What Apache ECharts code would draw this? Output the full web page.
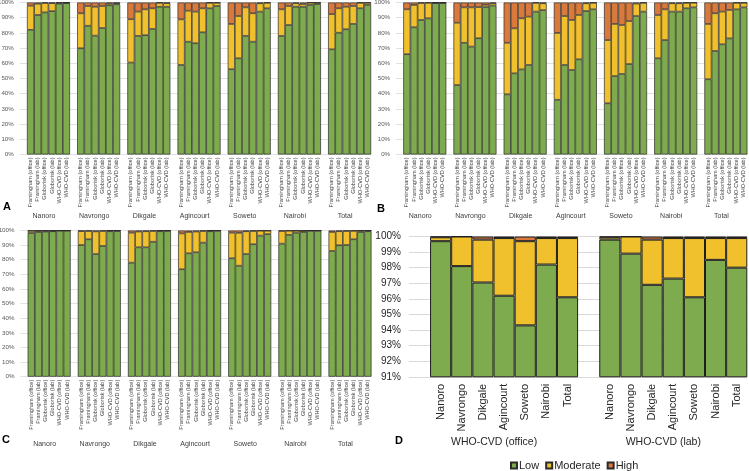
<!DOCTYPE html>
<html><head><meta charset="utf-8">
<script src="https://cdn.jsdelivr.net/npm/echarts@6/dist/echarts.min.js"></script>
<style>html,body{margin:0;padding:0;background:#fff}#c{width:749px;height:471px}</style>
</head><body><div id="c"></div>
<script>
// ---------- DATA ----------
const sites = ['Nanoro','Navrongo','Dikgale','Agincourt','Soweto','Nairobi','Total'];
const scores = ['Framingham (office)','Framingham (lab)','Globorisk (office)','Globorisk (lab)','WHO-CVD (office)','WHO-CVD (lab)'];
const riskLevels = ['Low','Moderate','High'];
const whoGroups = ['WHO-CVD (office)','WHO-CVD (lab)'];

// Panel A (% per site, 6 scores each)
const lowA = [[82,91.8,93.5,94.3,99.3,99.6],[69.9,84.7,78.2,83.2,98.2,98.8],[60.5,78,78.5,82.6,97.2,97.2],[58.9,74.2,73.2,80.4,96.2,97.7],[56.1,63.3,78,74.2,94,96.2],[78,85.2,97.2,97.2,98.4,99],[69.2,80.1,82.4,85.9,96.2,98.4]];
const modA = [[15.9,7.4,6.2,5.3,0.5,0.3],[23,13,19,14.5,1.2,0.8],[28.5,16,17,13.6,2.6,2.4],[30,20.4,20.8,15.8,3.6,2.1],[29.8,27.8,18.8,18.7,5.5,3.6],[17.5,12.5,2.3,1.8,1.5,0.9],[23.2,16.1,14.8,11.8,3.6,1.4]];
const highA = [[2.1,0.8,0.3,0.4,0.2,0.1],[7.1,2.3,2.8,2.3,0.6,0.4],[11,6,4.5,3.8,0.2,0.4],[11.1,5.4,6,3.8,0.2,0.2],[14.1,8.9,3.2,7.1,0.5,0.2],[4.5,2.3,0.5,1,0.1,0.1],[7.6,3.8,2.8,2.3,0.2,0.2]];

// Panel B
const lowB = [[66,83.7,88.5,89.6,99.6,99.7],[45.7,73.5,71,76.5,97,98],[39.6,53.4,56,58.9,94,95],[36,58.9,55.6,62.6,94.4,95.5],[33.7,51.6,53,59.5,91.1,94],[63.3,75.3,94,94,96.2,96.8],[49.5,68.1,72.5,76.4,95.5,96.8]];
const modB = [[29.5,14.7,11.2,10.2,0.3,0.2],[41,23.3,25.8,20.5,1.5,1.5],[33.9,29.6,33.6,31.8,5.8,4.5],[44,32.2,32.9,29.2,5.1,4.3],[41.6,34.3,32.2,28.3,8.2,5.8],[28.5,20.2,5.5,5.5,3.6,3.1],[36.4,24.8,21.5,18.7,4.3,3]];
const highB = [[4.5,1.6,0.3,0.2,0.1,0.1],[13.3,3.2,3.2,3,1.5,0.5],[26.5,17,10.4,9.3,0.2,0.5],[20,8.9,11.5,8.2,0.5,0.2],[24.7,14.1,14.8,12.2,0.7,0.2],[8.2,4.5,0.5,0.5,0.2,0.1],[14.1,7.1,6,4.9,0.2,0.2]];

// Panel C
const lowC = [[98.3,99,99.3,99.5,99.9,99.9],[90.1,94,83.9,89.4,99.5,99.6],[78,88.5,88.5,92.3,99.5,99.7],[73.5,84.4,85.1,91.7,99.5,99.8],[81,75.9,83.9,90.6,96.5,97.5],[91,97,98.5,99,99.8,99.8],[86,89.9,90.1,94,99,99.5]];
const modC = [[1.5,0.9,0.6,0.4,0.1,0.1],[9.5,5.7,15.5,10.3,0.5,0.4],[20.5,10.8,11,7.4,0.5,0.3],[24.5,14.6,14.2,8,0.5,0.2],[17.5,22.5,15.6,9.1,3.4,2.4],[8.7,2.9,1.4,0.9,0.2,0.2],[13,9.6,9.6,5.8,1,0.5]];
const highC = [[0.2,0.1,0.1,0.1,0,0],[0.4,0.3,0.6,0.3,0,0],[1.5,0.7,0.5,0.3,0,0],[2,1,0.7,0.3,0,0],[1.5,1.6,0.5,0.3,0.1,0.1],[0.3,0.1,0.1,0.1,0,0],[1,0.5,0.3,0.2,0,0]];

// Panel D (WHO-CVD office / lab, per site)
const lowDoffice = [99.7,98.1,97.05,96.2,94.3,98.2,96.1];
const modDoffice = [0.25,1.9,2.75,3.7,5.4,1.7,3.8];
const highDoffice = [0.05,0,0.2,0.1,0.3,0.1,0.1];
const lowDlab = [99.8,98.9,96.9,97.3,96.1,98.5,98.0];
const modDlab = [0.15,1.1,2.9,2.6,3.8,1.4,1.9];
const highDlab = [0.05,0,0.2,0.1,0.1,0.1,0.1];

// ---------- BUILD ----------
const FN = "'Liberation Sans Narrow','Liberation Sans',Arial,sans-serif";
const FR = "'Liberation Sans',Arial,sans-serif";
const COLORS = {Low:'#7eab4e', Moderate:'#f1c12d', High:'#d9793b'};

function abcSlots(rows){ const out=[]; rows.forEach(r=>{ out.push('-'); r.forEach(v=>out.push(v)); }); return out; }
const abcLabels = []; sites.forEach(()=>{ abcLabels.push(''); scores.forEach(s=>abcLabels.push(s)); });
const abcGroupLabels = new Array(50).fill(''); sites.forEach((s,g)=>{ abcGroupLabels[7*g+4]=s; });
function dSlots(a,b){ return ['-'].concat(a,['-'],b); }
const dLabels = [''].concat(sites,[''],sites);
const dGroupLabels = new Array(16).fill(''); dGroupLabels[4]=whoGroups[0]; dGroupLabels[12]=whoGroups[1];

const grids = [
  {left:19.8, top:2.5, width:351.3, height:152},
  {left:396.1, top:2.5, width:351.3, height:152},
  {left:20.5, top:230.5, width:351, height:146.2},
  {left:408.9, top:236.5, width:338.4, height:140.3}
].map(g=>Object.assign(g,{containLabel:false, outerBoundsMode:'none'}));

const xAxis = [], yAxis = [], series = [];
const auxMargins = [58, 58.5, 63.5];
[0,1,2].forEach(p=>{
  xAxis.push({type:'category', gridIndex:p, position:'bottom', data:abcLabels,
    axisLine:{show:false}, axisTick:{show:false}, splitLine:{show:false},
    axisLabel:{interval:0, rotate:90, fontSize:5.6, fontFamily:FN, color:'#404040', margin:3}});
  xAxis.push({type:'category', gridIndex:p, position:'bottom', data:abcGroupLabels, boundaryGap:false,
    axisLine:{show:false}, axisTick:{show:false}, splitLine:{show:false},
    axisLabel:{interval:0, fontSize:7, fontFamily:FN, color:'#404040', margin:auxMargins[p], padding:[0,9,0,0]}});
  yAxis.push({type:'value', gridIndex:p, min:0, max:100, interval:10,
    axisLine:{show:false}, axisTick:{show:false},
    splitLine:{show:true, lineStyle:{color:'#d9d9d9', width:0.8}},
    axisLabel:{formatter:'{value}%', fontSize:6.2, fontFamily:FN, color:'#595959', margin:6}});
});
xAxis.push({type:'category', gridIndex:3, position:'bottom', data:dLabels,
  axisLine:{show:false}, axisTick:{show:false}, splitLine:{show:false},
  axisLabel:{interval:0, rotate:90, fontSize:11, fontFamily:FR, color:'#262626', margin:7}});
xAxis.push({type:'category', gridIndex:3, position:'bottom', data:dGroupLabels,
  axisLine:{show:false}, axisTick:{show:false}, splitLine:{show:false},
  axisLabel:{interval:0, fontSize:10.5, fontFamily:FN, color:'#262626', margin:60, padding:[0,20,0,0]}});
yAxis.push({type:'value', gridIndex:3, min:91, max:100, interval:1,
  axisLine:{show:false}, axisTick:{show:false},
  splitLine:{show:true, lineStyle:{color:'#d9d9d9', width:1}},
  axisLabel:{formatter:'{value}%', fontSize:10, fontFamily:FN, color:'#262626', margin:8}});

const panelData = [[lowA,modA,highA],[lowB,modB,highB],[lowC,modC,highC]];
panelData.forEach((arrs,p)=>{
  riskLevels.forEach((lvl,i)=>{
    series.push({type:'bar', name:lvl, xAxisIndex:2*p, yAxisIndex:p, stack:'s'+p,
      barCategoryGap:'0%', data:abcSlots(arrs[i]),
      itemStyle:{color:COLORS[lvl], borderColor:'#2a2a2a', borderWidth:0.7},
      emphasis:{disabled:true}});
  });
});
const dArrs = [[lowDoffice,lowDlab],[modDoffice,modDlab],[highDoffice,highDlab]];
riskLevels.forEach((lvl,i)=>{
  series.push({type:'bar', name:lvl, xAxisIndex:6, yAxisIndex:3, stack:'sD',
    barCategoryGap:'0%', data:dSlots(dArrs[i][0], dArrs[i][1]),
    itemStyle:{color:COLORS[lvl], borderColor:'#1e1e1e', borderWidth:1},
    emphasis:{disabled:true}});
});

const letterStyle = {fontSize:11, fontWeight:'bold', color:'#000', fontFamily:FR};
const option = {
  animation:false,
  backgroundColor:'#fff',
  title:[
    {text:'A', left:3, top:201, padding:0, textStyle:letterStyle},
    {text:'B', left:377, top:203, padding:0, textStyle:letterStyle},
    {text:'C', left:2, top:434, padding:0, textStyle:letterStyle},
    {text:'D', left:395, top:435, padding:0, textStyle:letterStyle}
  ],
  legend:{data:riskLevels, left:510, top:460, padding:0, itemWidth:6, itemHeight:6, itemGap:6, icon:'rect',
    textStyle:{fontSize:11, fontFamily:FN, color:'#262626', padding:[0,0,0,-3]}},
  grid:grids, xAxis:xAxis, yAxis:yAxis, series:series
};
const chart = echarts.init(document.getElementById('c'));
chart.setOption(option);
</script></body></html>
